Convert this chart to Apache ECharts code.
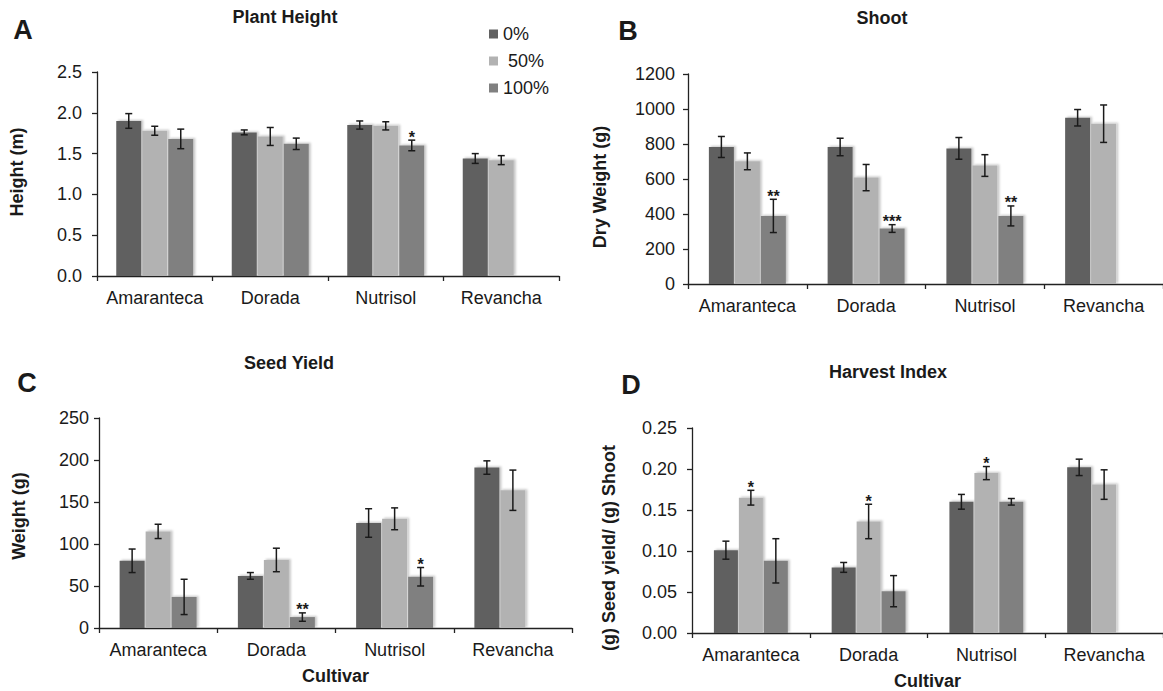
<!DOCTYPE html>
<html>
<head>
<meta charset="utf-8">
<script src="https://cdn.jsdelivr.net/npm/echarts@6/dist/echarts.min.js"></script>
<style>
html,body{margin:0;padding:0;background:#fff;}
#chart{width:1163px;height:691px;}
</style>
</head>
<body>
<div id="chart"></div>
<script>
// ---------- DATA ----------
const categories = ['Amaranteca', 'Dorada', 'Nutrisol', 'Revancha'];
const seriesNames = ['0%', ' 50%', '100%'];

// A: Plant Height (m)
const heightMean0   = [1.90, 1.76, 1.85, 1.44];
const heightMean50  = [1.78, 1.71, 1.84, 1.42];
const heightMean100 = [1.68, 1.62, 1.60, 0];
const heightErr0    = [0.09, 0.03, 0.05, 0.06];
const heightErr50   = [0.055, 0.11, 0.05, 0.055];
const heightErr100  = [0.12, 0.07, 0.065, null];
const heightStars100 = ['', '', '*', ''];

// B: Shoot dry weight (g)
const shootMean0   = [783, 783, 775, 950];
const shootMean50  = [701, 608, 677, 916];
const shootMean100 = [389, 317, 389, null];
const shootErr0    = [60, 50, 62, 47];
const shootErr50   = [48, 75, 62, 107];
const shootErr100  = [95, 22, 57, null];
const shootStars100 = ['**', '***', '**', ''];

// C: Seed yield (g)
const seedMean0   = [80, 62, 125, 191];
const seedMean50  = [115, 81, 130, 164];
const seedMean100 = [37, 13, 61, null];
const seedErr0    = [14, 4, 17, 8];
const seedErr50   = [8.5, 14, 13, 24];
const seedErr100  = [21, 5, 11, null];
const seedStars100 = ['', '**', '*', ''];

// D: Harvest index
const hiMean0   = [0.101, 0.080, 0.160, 0.202];
const hiMean50  = [0.165, 0.136, 0.195, 0.181];
const hiMean100 = [0.088, 0.051, 0.160, null];
const hiErr0    = [0.011, 0.006, 0.009, 0.010];
const hiErr50   = [0.009, 0.021, 0.008, 0.018];
const hiErr100  = [0.027, 0.019, 0.004, null];
const hiStars50 = ['*', '*', '*', ''];

// ---------- BUILD ----------
const FONT = 'Liberation Sans, Arial, Helvetica, sans-serif';
const TXT = '#1a1a1a';
const colors = ['#616161', '#b2b2b2', '#808080'];
const GAP_PCT = 4;

const panels = [
  { grid: {left: 97, top: 72, width: 462, height: 204}, barW: 25, max: 2.5, interval: 0.5, dec: 1, labelMargin: 15,
    means: [heightMean0, heightMean50, heightMean100], errs: [heightErr0, heightErr50, heightErr100],
    stars: [null, null, heightStars100], xName: '' },
  { grid: {left: 688, top: 74, width: 479, height: 210}, barW: 25, max: 1200, interval: 200, dec: 0, labelMargin: 13,
    means: [shootMean0, shootMean50, shootMean100], errs: [shootErr0, shootErr50, shootErr100],
    stars: [null, null, shootStars100], xName: '' },
  { grid: {left: 99, top: 418, width: 473, height: 210}, barW: 25, max: 250, interval: 50, dec: 0, labelMargin: 10,
    means: [seedMean0, seedMean50, seedMean100], errs: [seedErr0, seedErr50, seedErr100],
    stars: [null, null, seedStars100], xName: 'Cultivar' },
  { grid: {left: 692, top: 428, width: 473, height: 205}, barW: 24, max: 0.25, interval: 0.05, dec: 2, labelMargin: 15,
    means: [hiMean0, hiMean50, hiMean100], errs: [hiErr0, hiErr50, hiErr100],
    stars: [null, hiStars50, null], xName: 'Cultivar' }
];

const grids = [], xAxes = [], yAxes = [], series = [];
const axisLineStyle = {color: '#222', width: 1.3};

panels.forEach((p, pi) => {
  grids.push(p.grid);
  xAxes.push({
    type: 'category', gridIndex: pi, data: categories,
    axisLine: {lineStyle: axisLineStyle},
    axisTick: {show: true, length: 5, lineStyle: axisLineStyle},
    axisLabel: {color: TXT, fontSize: 18, fontFamily: FONT, margin: 13, interval: 0},
    name: p.xName, nameLocation: 'middle', nameGap: 39,
    nameTextStyle: {color: TXT, fontSize: 18, fontWeight: 'bold', fontFamily: FONT}
  });
  yAxes.push({
    type: 'value', gridIndex: pi, min: 0, max: p.max, interval: p.interval,
    axisLine: {show: true, lineStyle: axisLineStyle},
    axisTick: {show: true, length: 5, lineStyle: axisLineStyle},
    splitLine: {show: false},
    axisLabel: {color: TXT, fontSize: 18, fontFamily: FONT, margin: p.labelMargin,
      formatter: v => v.toFixed(p.dec)}
  });
  for (let si = 0; si < 3; si++) {
    series.push({
      type: 'bar', name: seriesNames[si], xAxisIndex: pi, yAxisIndex: pi,
      data: p.means[si], barWidth: p.barW, barGap: GAP_PCT + '%',
      itemStyle: {color: colors[si], shadowColor: 'rgba(0,0,0,0.22)', shadowBlur: 2, shadowOffsetX: 2, shadowOffsetY: -1},
      emphasis: {disabled: true}
    });
  }
  for (let si = 0; si < 3; si++) {
    const data = categories.map((c, ci) => [ci, p.means[si][ci], p.errs[si][ci], p.stars[si] ? p.stars[si][ci] : '']);
    const offset = (si - 1) * (p.barW + p.barW * GAP_PCT / 100);
    series.push({
      type: 'custom', xAxisIndex: pi, yAxisIndex: pi, data: data, z: 5, silent: true,
      renderItem: function (params, api) {
        const ci = api.value(0), m = api.value(1), e = api.value(2);
        const star = data[params.dataIndex][3];
        if (m == null || isNaN(m) || e == null || isNaN(e)) return null;
        const hi = api.coord([ci, m + e]);
        const lo = api.coord([ci, m - e]);
        const x = hi[0] + offset;
        const st = {stroke: '#1a1a1a', lineWidth: 1.5};
        const children = [
          {type: 'line', shape: {x1: x, y1: hi[1], x2: x, y2: lo[1]}, style: st},
          {type: 'line', shape: {x1: x - 3.5, y1: hi[1], x2: x + 3.5, y2: hi[1]}, style: st},
          {type: 'line', shape: {x1: x - 3.5, y1: lo[1], x2: x + 3.5, y2: lo[1]}, style: st}
        ];
        if (star) {
          children.push({type: 'text', x: x, y: hi[1] - 3,
            style: {text: star, fill: '#1a1a1a', font: 'bold 16px ' + FONT, align: 'center', verticalAlign: 'middle'}});
        }
        return {type: 'group', children: children};
      }
    });
  }
});

function label(text, x, y, size, rot) {
  return {type: 'text', x: x, y: y, rotation: rot || 0,
    style: {text: text, fill: TXT, font: 'bold ' + size + 'px ' + FONT, align: 'center', verticalAlign: 'middle'}};
}

const titleStyle = {fontSize: 18, fontWeight: 'bold', color: TXT, fontFamily: FONT};
const option = {
  backgroundColor: '#fff',
  animation: false,
  title: [
    {text: 'Plant Height', left: 285, top: 8, textAlign: 'center', padding: 0, textStyle: titleStyle},
    {text: 'Shoot', left: 882, top: 9, textAlign: 'center', padding: 0, textStyle: titleStyle},
    {text: 'Seed Yield', left: 289, top: 354, textAlign: 'center', padding: 0, textStyle: titleStyle},
    {text: 'Harvest Index', left: 888, top: 363, textAlign: 'center', padding: 0, textStyle: titleStyle}
  ],
  legend: {
    orient: 'vertical', left: 489, top: 25, padding: 0,
    itemWidth: 9, itemHeight: 9, itemGap: 9, icon: 'rect',
    data: seriesNames,
    textStyle: {color: TXT, fontSize: 18, fontFamily: FONT},
    selectedMode: false
  },
  graphic: [
    label('A', 23, 30, 27),
    label('B', 628, 31, 27),
    label('C', 27, 383, 27),
    label('D', 631, 385, 27),
    label('Height (m)', 17, 172, 18, Math.PI / 2),
    label('Dry Weight (g)', 600, 187, 18, Math.PI / 2),
    label('Weight (g)', 19, 516, 18, Math.PI / 2),
    label('(g) Seed yield/ (g) Shoot', 609, 548, 18, Math.PI / 2)
  ],
  grid: grids,
  xAxis: xAxes,
  yAxis: yAxes,
  series: series
};

const chart = echarts.init(document.getElementById('chart'), null, {renderer: 'svg'});
chart.setOption(option);
</script>
</body>
</html>
